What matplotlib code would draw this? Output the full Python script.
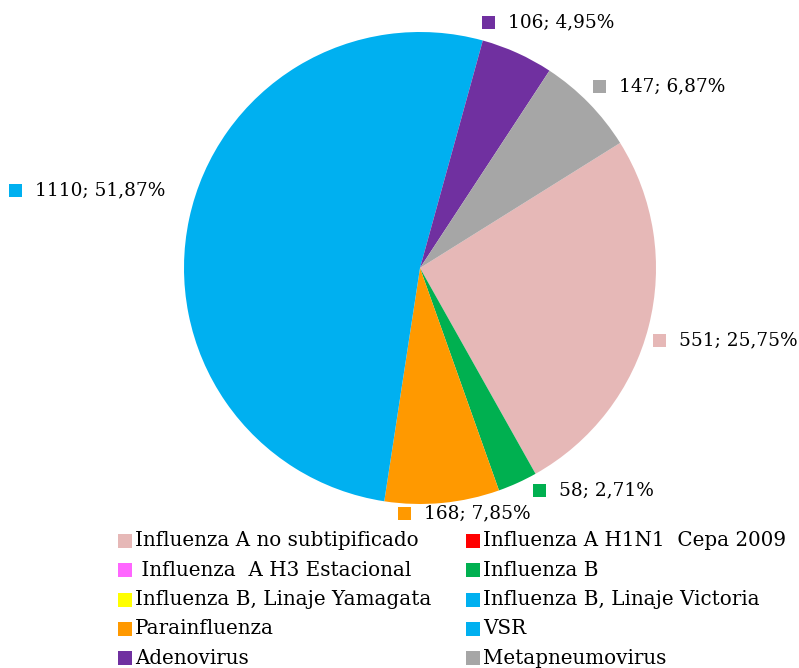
import matplotlib.pyplot as plt
import matplotlib.patches as patches

# virus counts, in legend order
virus = ["Influenza A no subtipificado", "Influenza A H1N1  Cepa 2009",
         " Influenza  A H3 Estacional", "Influenza B",
         "Influenza B, Linaje Yamagata", "Influenza B, Linaje Victoria",
         "Parainfluenza", "VSR", "Adenovirus", "Metapneumovirus"]
casos = [551, 0, 0, 58, 0, 0, 168, 1110, 106, 147]
colores = ["#E6B8B7", "#FF0000", "#FF66FF", "#00B050", "#FFFF00",
           "#00B0F0", "#FF9900", "#00B0F0", "#7030A0", "#A6A6A6"]

# where each data label goes (pixels from top-left), only non-zero slices
pos_etiqueta = {0: (653, 340), 3: (533, 490), 6: (398, 513),
                7: (9, 190), 8: (482, 22), 9: (593, 86)}

W, H = 799, 668
fig = plt.figure(figsize=(W / 100, H / 100), dpi=100)
ax = fig.add_axes([0, 0, 1, 1])
plt.rcParams['font.family'] = 'DejaVu Serif'

ax.pie(casos, colors=colores, startangle=32, counterclock=False,
       center=(420, H - 268), radius=236, frame=True)
ax.set_xlim(0, W)
ax.set_ylim(0, H)
ax.set_aspect('equal')
ax.axis('off')

total = sum(casos)
sq = 13
for i, (x, y) in pos_etiqueta.items():
    pct = casos[i] / total * 100
    txt = (str(casos[i]) + "; " + ("%.2f" % pct).replace(".", ",") + "%")
    ax.add_patch(patches.Rectangle((x, H - y - sq / 2), sq, sq,
                                   color=colores[i], lw=0))
    ax.text(x + sq + 13, H - y, txt, fontsize=13.3, va='center', ha='left')

# legend, two columns
for k, nombre in enumerate(virus):
    col = k % 2
    fila = k // 2
    x = 118 if col == 0 else 466
    y = 541 + fila * 29.3
    ax.add_patch(patches.Rectangle((x, H - y - 7), 14, 14,
                                   color=colores[k], lw=0))
    ax.text(x + 17, H - y, nombre, fontsize=14.3, va='center', ha='left')

plt.savefig("out.png", dpi=100)
